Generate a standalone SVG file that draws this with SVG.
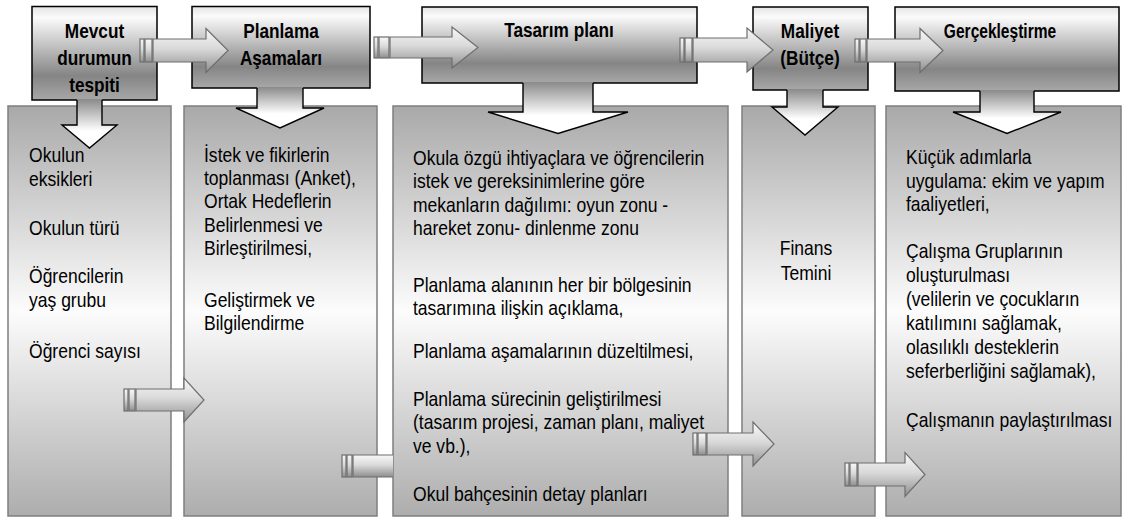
<svg xmlns="http://www.w3.org/2000/svg" width="1125" height="519" viewBox="0 0 1125 519">
<defs>
<linearGradient id="hdrG" x1="0" y1="0" x2="0" y2="1">
<stop offset="0" stop-color="#e4e4e4"/><stop offset="0.12" stop-color="#fbfbfb"/><stop offset="0.74" stop-color="#858585"/><stop offset="1" stop-color="#a8a8a8"/>
</linearGradient>
<linearGradient id="panG" x1="0" y1="0" x2="0" y2="1">
<stop offset="0" stop-color="#a9a9a9"/><stop offset="0.5" stop-color="#fcfcfc"/><stop offset="1" stop-color="#adadad"/>
</linearGradient>
<linearGradient id="downG" x1="0" y1="0" x2="0" y2="1">
<stop offset="0" stop-color="#8a8a8a"/><stop offset="0.65" stop-color="#ffffff"/><stop offset="1" stop-color="#ffffff"/>
</linearGradient>
<linearGradient id="arrG" x1="0" y1="0" x2="0" y2="1">
<stop offset="0" stop-color="#f8f8f8"/><stop offset="0.45" stop-color="#dadada"/><stop offset="1" stop-color="#8e8e8e"/>
</linearGradient>
<clipPath id="p3clip"><rect x="393" y="106" width="335" height="400"/></clipPath>
</defs>
<style>
.hdr{fill:url(#hdrG);stroke:#000;stroke-width:1.5}
.pan{fill:url(#panG);stroke:#7f7f7f;stroke-width:1.5}
.dfill{fill:url(#downG);stroke:none}
.dline{fill:none;stroke:#000;stroke-width:1.4;stroke-linejoin:miter}
.arr{fill:url(#arrG);stroke:#6e6e6e;stroke-width:1.2}
.h{font-family:"Liberation Sans",Arial,sans-serif;font-weight:bold;font-size:21px;fill:#000;text-anchor:middle}
.b{font-family:"Liberation Sans",Arial,sans-serif;font-size:21px;fill:#000}
</style>

<g id="panel1"><rect class="pan" x="8" y="106" width="163" height="410"/>
<text class="b" transform="translate(29 0) scale(.835 1)"><tspan x="0" y="162">Okulun</tspan><tspan x="0" y="186">eksikleri</tspan><tspan x="0" y="235">Okulun türü</tspan><tspan x="0" y="283">Öğrencilerin</tspan><tspan x="0" y="307">yaş grubu</tspan><tspan x="0" y="358">Öğrenci sayısı</tspan></text></g>

<g id="panel2"><rect class="pan" x="184" y="106" width="193" height="410"/>
<text class="b" transform="translate(204 0) scale(.835 1)"><tspan x="0" y="162">İstek ve fikirlerin</tspan><tspan x="0" y="185">toplanması (Anket),</tspan><tspan x="0" y="208.5">Ortak Hedeflerin</tspan><tspan x="0" y="232">Belirlenmesi ve</tspan><tspan x="0" y="255.5">Birleştirilmesi,</tspan><tspan x="0" y="307">Geliştirmek ve</tspan><tspan x="0" y="330.5">Bilgilendirme</tspan></text></g>

<g id="panel3"><rect class="pan" x="393" y="106" width="335" height="410"/>
<g clip-path="url(#p3clip)"><text class="b" transform="translate(413 0) scale(.835 1)"><tspan x="0" y="165">Okula özgü ihtiyaçlara ve öğrencilerin</tspan><tspan x="0" y="188.3">istek ve gereksinimlerine göre</tspan><tspan x="0" y="211.7">mekanların dağılımı: oyun zonu -</tspan><tspan x="0" y="235">hareket zonu- dinlenme zonu</tspan><tspan x="0" y="291.7">Planlama alanının her bir bölgesinin</tspan><tspan x="0" y="315">tasarımına ilişkin açıklama,</tspan><tspan x="0" y="358.3">Planlama aşamalarının düzeltilmesi,</tspan><tspan x="0" y="406">Planlama sürecinin geliştirilmesi</tspan><tspan x="0" y="429.5">(tasarım projesi, zaman planı, maliyet</tspan><tspan x="0" y="453">ve vb.),</tspan><tspan x="0" y="501.5">Okul bahçesinin detay planları</tspan></text></g></g>

<g id="panel4"><rect class="pan" x="742" y="106" width="133" height="410"/>
<text class="b" transform="translate(806 0) scale(.835 1)" text-anchor="middle"><tspan x="0" y="255">Finans</tspan><tspan x="0" y="280">Temini</tspan></text></g>

<g id="panel5"><rect class="pan" x="886" y="106" width="235" height="410"/>
<text class="b" transform="translate(906 0) scale(.835 1)"><tspan x="0" y="164.5">Küçük adımlarla</tspan><tspan x="0" y="188">uygulama: ekim ve yapım</tspan><tspan x="0" y="211.5">faaliyetleri,</tspan><tspan x="0" y="258">Çalışma Gruplarının</tspan><tspan x="0" y="282">oluşturulması</tspan><tspan x="0" y="306">(velilerin ve çocukların</tspan><tspan x="0" y="330">katılımını sağlamak,</tspan><tspan x="0" y="354">olasılıklı desteklerin</tspan><tspan x="0" y="378">seferberliğini sağlamak),</tspan><tspan x="0" y="427">Çalışmanın paylaştırılması</tspan></text></g>

<g id="step1"><rect class="hdr" x="32" y="6.5" width="125" height="93.5"/>
<text class="h" transform="translate(94.5 0) scale(.82 1)"><tspan x="0" y="38.3">Mevcut</tspan><tspan x="0" y="65">durumun</tspan><tspan x="0" y="91.7">tespiti</tspan></text></g>

<g id="step2"><rect class="hdr" x="192" y="6.5" width="178" height="81.5"/>
<text class="h" transform="translate(281 0) scale(.82 1)"><tspan x="0" y="38.3">Planlama</tspan><tspan x="0" y="65">Aşamaları</tspan></text></g>

<g id="step3"><rect class="hdr" x="422" y="7" width="275" height="76"/>
<text class="h" transform="translate(559 0) scale(.82 1)"><tspan x="0" y="37.3">Tasarım planı</tspan></text></g>

<g id="step4"><rect class="hdr" x="753" y="7" width="115" height="83"/>
<text class="h" transform="translate(810 0) scale(.82 1)"><tspan x="0" y="38.3">Maliyet</tspan><tspan x="0" y="65">(Bütçe)</tspan></text></g>

<g id="step5"><rect class="hdr" x="895" y="7" width="224" height="84"/>
<text class="h" transform="translate(1000 0) scale(.74 1)"><tspan x="0" y="38">Gerçekleştirme</tspan></text></g>

<g id="connectors">
<path class="dfill" d="M77,99 L102,99 L102,125 L117,125 L89.5,148 L62,125 L77,125 Z"/>
<path class="dline" d="M77,100 L77,125 L62,125 L89.5,148 L117,125 L102,125 L102,100"/>
<path class="dfill" d="M257,87 L303,87 L303,108 L324,108 L280,128 L236,108 L257,108 Z"/>
<path class="dline" d="M257,88 L257,108 L236,108 L280,128 L324,108 L303,108 L303,88"/>
<path class="dfill" d="M523,82 L593,82 L593,112 L628,112 L558,133.5 L488,112 L523,112 Z"/>
<path class="dline" d="M523,83 L523,112 L488,112 L558,133.5 L628,112 L593,112 L593,83"/>
<path class="dfill" d="M787,89 L823,89 L823,107 L838,107 L805,135 L772,107 L787,107 Z"/>
<path class="dline" d="M787,90 L787,107 L772,107 L805,135 L838,107 L823,107 L823,90"/>
<path class="dfill" d="M980,90 L1034,90 L1034,112 L1061,112 L1007,133.5 L953,112 L980,112 Z"/>
<path class="dline" d="M980,91 L980,112 L953,112 L1007,133.5 L1061,112 L1034,112 L1034,91"/>
<rect class="arr" x="140" y="39" width="4" height="23"/><rect class="arr" x="145" y="39" width="7" height="23"/>
<path class="arr" d="M153,39 L206,39 L206,28.5 L228,50.5 L206,72.5 L206,62 L153,62 Z"/>
<rect class="arr" x="374" y="37" width="4" height="21"/><rect class="arr" x="379" y="37" width="10" height="21"/>
<path class="arr" d="M390,37 L452,37 L452,27 L478,47.5 L452,68 L452,58 L390,58 Z"/>
<rect class="arr" x="680" y="38" width="4" height="24"/><rect class="arr" x="685" y="38" width="7" height="24"/>
<path class="arr" d="M693,38 L747,38 L747,28 L773,50 L747,72 L747,62 L693,62 Z"/>
<rect class="arr" x="855" y="39" width="4" height="23"/><rect class="arr" x="860" y="39" width="6" height="23"/>
<path class="arr" d="M867,39 L920,39 L920,28.5 L943,50.5 L920,72.5 L920,62 L867,62 Z"/>
<rect class="arr" x="124" y="389" width="4" height="22"/><rect class="arr" x="129" y="389" width="6" height="22"/>
<path class="arr" d="M136,389 L184,389 L184,378 L204,400 L184,422 L184,411 L136,411 Z"/>
<rect class="arr" x="342" y="455" width="4" height="22"/><rect class="arr" x="347" y="455" width="5" height="22"/>
<rect x="353" y="455" width="40" height="22" fill="url(#arrG)"/>
<path d="M393,455 L353,455 L353,477 L393,477" fill="none" stroke="#6e6e6e" stroke-width="1.2"/>
<rect class="arr" x="693" y="433" width="4" height="22"/><rect class="arr" x="698" y="433" width="8" height="22"/>
<path class="arr" d="M707,433 L753,433 L753,422 L774,444 L753,466 L753,455 L707,455 Z"/>
<rect class="arr" x="845" y="463" width="4" height="23"/><rect class="arr" x="850" y="463" width="7" height="23"/>
<path class="arr" d="M858,463 L905,463 L905,452.5 L925,474.5 L905,496.5 L905,486 L858,486 Z"/>
</g>
</svg>
